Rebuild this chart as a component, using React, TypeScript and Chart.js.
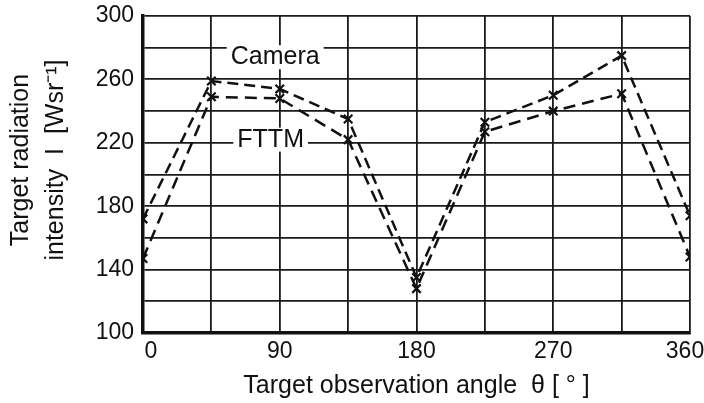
import React, { useEffect, useRef } from "react";
import { Chart, registerables } from "chart.js";

Chart.register(...registerables);

const angles = [0, 45, 90, 135, 180, 225, 270, 315, 360];
const cameraValues = [172, 259, 254, 235, 135, 233, 250, 275, 174];
const fttmValues = [147, 249, 248, 222, 128, 227, 240, 251, 148];
const xTickLabels = [0, 90, 180, 270, 360];
const yTickLabels = [100, 140, 180, 220, 260, 300];
const seriesLabels = [
  { text: "Camera", x: 87, y: 274 },
  { text: "FTTM", x: 84, y: 222 },
];
const yTitleLines = ["Target radiation", "intensity  I  [Wsr⁻¹]"];
const xTitle = "Target observation angle  θ [ ° ]";

const FONT = "'Liberation Sans', Arial, sans-serif";

export default function App() {
  const ref = useRef<HTMLCanvasElement | null>(null);

  useEffect(() => {
    document.body.style.margin = "0";
    const canvas = ref.current;
    if (!canvas) return;

    const labelPlugin = {
      id: "seriesLabels",
      afterDatasetsDraw(chart: any) {
        const { ctx, scales } = chart;
        ctx.save();
        ctx.font = `25px ${FONT}`;
        ctx.textAlign = "center";
        ctx.textBaseline = "middle";
        for (const l of seriesLabels) {
          const px = scales.x.getPixelForValue(l.x);
          const py = scales.y.getPixelForValue(l.y);
          const w = ctx.measureText(l.text).width;
          ctx.fillStyle = "#fff";
          ctx.fillRect(px - w / 2 - 4, py - 12, w + 8, 24);
          ctx.fillStyle = "#111";
          ctx.fillText(l.text, px, py);
        }
        // x tick labels (end labels nudged inward like the original)
        ctx.font = `23px ${FONT}`;
        ctx.textBaseline = "top";
        const bottom = chart.chartArea.bottom;
        xTickLabels.forEach((v, i) => {
          let px = scales.x.getPixelForValue(v);
          if (i === 0) px += 8;
          if (i === xTickLabels.length - 1) px -= 5;
          ctx.fillText(String(v), px, bottom + 7);
        });
        // y-axis title, two rotated lines
        ctx.font = `25px ${FONT}`;
        ctx.textBaseline = "middle";
        ctx.translate(0, 160);
        ctx.rotate(-Math.PI / 2);
        ctx.fillText(yTitleLines[0], 0, 21);
        ctx.fillText(yTitleLines[1], 0, 56);
        ctx.restore();
      },
    };

    const mk = (label: string, data: number[], dash: number[]) => ({
      label,
      data: angles.map((a, i) => ({ x: a, y: data[i] })),
      borderColor: "#111",
      backgroundColor: "#111",
      borderWidth: 2.5,
      borderDash: dash,
      pointStyle: "crossRot",
      pointRadius: 6,
      pointBorderWidth: 2.2,
      pointBorderColor: "#111",
      tension: 0,
    });

    const chart = new Chart(canvas, {
      type: "line",
      data: {
        datasets: [
          mk("Camera", cameraValues, [11, 6]),
          mk("FTTM", fttmValues, [12, 7]),
        ],
      },
      plugins: [labelPlugin],
      options: {
        animation: false,
        responsive: false,
        maintainAspectRatio: false,
        layout: { padding: { top: 16, right: 14, left: 0, bottom: 0 } },
        plugins: { legend: { display: false }, tooltip: { enabled: false } },
        scales: {
          x: {
            type: "linear",
            min: 0,
            max: 360,
            afterFit: (s: any) => {
              s.height = 70;
              s.paddingLeft = 0;
              s.paddingRight = 0;
            },
            border: { display: true, color: "#111", width: 3.5 },
            grid: { color: "#1a1a1a", lineWidth: 1.8, drawTicks: false },
            ticks: {
              stepSize: 45,
              padding: 6,
              color: "rgba(0,0,0,0)",
              font: { family: FONT, size: 23 },
              maxRotation: 0,
              autoSkip: false,
              callback: (v: any) => (xTickLabels.includes(Number(v)) ? String(v) : ""),
            },
            title: {
              display: true,
              text: xTitle,
              color: "#111",
              font: { family: FONT, size: 25 },
              padding: { top: 0, bottom: 2 },
            },
          },
          y: {
            min: 100,
            max: 300,
            afterFit: (s: any) => {
              s.width = 143;
              s.paddingTop = 0;
              s.paddingBottom = 0;
            },
            border: { display: true, color: "#111", width: 3.5 },
            grid: { color: "#1a1a1a", lineWidth: 1.8, drawTicks: false },
            ticks: {
              stepSize: 20,
              padding: 9,
              color: "#111",
              font: { family: FONT, size: 23 },
              autoSkip: false,
              callback: (v: any) => (yTickLabels.includes(Number(v)) ? String(v) : ""),
            },
            title: { display: false },
          },
        },
      },
    } as any);

    return () => chart.destroy();
  }, []);

  return (
    <div style={{ width: 704, height: 403, background: "#fff" }}>
      <canvas ref={ref} width={704} height={403} style={{ display: "block" }} />
    </div>
  );
}
